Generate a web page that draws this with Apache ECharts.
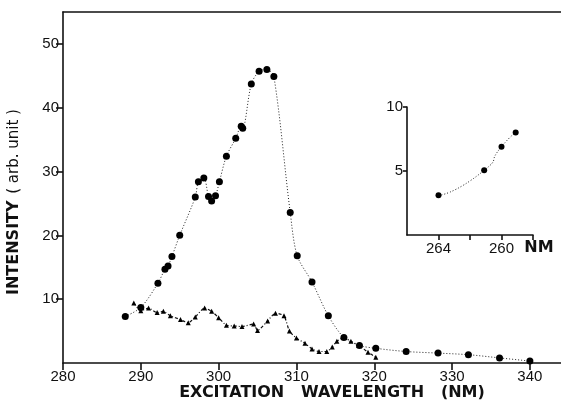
<!DOCTYPE html>
<html>
<head>
<meta charset="utf-8">
<script src="https://cdn.jsdelivr.net/npm/echarts@6/dist/echarts.min.js"></script>
<style>
  html, body { margin: 0; padding: 0; background: #fff; }
  #chart { width: 561px; height: 404px; }
</style>
</head>
<body>
<div id="chart"></div>
<script>
// Excitation spectrum, circle series (large dots, dotted curve)
const circleX = [288, 290, 292.2, 293.1, 293.5, 294.0, 295.0, 297.0, 297.4, 298.1, 298.7, 299.1, 299.6, 300.1, 301.0, 302.2, 302.9, 303.1, 304.2, 305.2, 306.2, 307.1, 309.2, 310.1, 312.0, 314.1, 316.1, 318.1, 320.2, 324.1, 328.2, 332.1, 336.1, 340.0];
const circleY = [7.3, 8.7, 12.5, 14.7, 15.2, 16.7, 20.0, 26.0, 28.4, 29.0, 26.1, 25.4, 26.2, 28.4, 32.4, 35.2, 37.1, 36.8, 43.7, 45.7, 46.0, 44.9, 23.6, 16.8, 12.7, 7.4, 4.0, 2.75, 2.3, 1.8, 1.55, 1.3, 0.8, 0.3];

// Excitation spectrum, triangle series (small marks, dash-dot curve)
const triX = [289.1, 290.0, 291.0, 292.1, 292.9, 293.8, 295.1, 296.1, 297.0, 298.2, 299.1, 300.0, 301.0, 302.0, 303.0, 304.5, 305.0, 306.3, 307.3, 308.4, 309.1, 310.0, 311.1, 312.0, 312.9, 313.9, 314.6, 315.2, 316.1, 317.0, 318.0, 319.2, 320.2];
const triY = [9.4, 8.2, 8.6, 7.9, 8.1, 7.4, 6.8, 6.3, 7.2, 8.6, 8.1, 7.1, 5.9, 5.8, 5.7, 6.1, 5.1, 6.6, 7.8, 7.4, 5.0, 3.9, 3.1, 2.2, 1.8, 1.8, 2.5, 3.4, 4.0, 3.4, 2.75, 1.7, 0.9];

// Inset: short-wavelength points
const insetX = [264, 261.1, 260.0, 259.1];
const insetY = [3.1, 5.05, 6.9, 8.0];

// Tick positions and labels
const mainXTicks = [280, 290, 300, 310, 320, 330, 340];
const mainYTicks = [10, 20, 30, 40, 50];
const insetXTickMarks = [264, 262, 260, 258];
const insetXTicks = [264, 260];
const insetYTicks = [5, 10];

const zip = (xs, ys) => xs.map((x, i) => [x, ys[i]]);

const tickFont = { fontFamily: 'Liberation Sans', fontSize: 15, color: '#111' };
const axisLineStyle = { color: '#111', width: 1.6 };

const chart = echarts.init(document.getElementById('chart'));
chart.setOption({
  backgroundColor: '#fff',
  animation: false,
  grid: [
    { left: 63, top: 12, width: 500, height: 351 },
    { left: 407, top: 107, width: 126, height: 128 }
  ],
  xAxis: [
    {
      gridIndex: 0, type: 'value', min: 280, max: 344, interval: 10,
      axisLine: { lineStyle: axisLineStyle },
      axisTick: { length: 7, lineStyle: axisLineStyle, customValues: mainXTicks },
      axisLabel: Object.assign({ margin: 6, customValues: mainXTicks }, tickFont),
      splitLine: { show: false }
    },
    {
      gridIndex: 1, type: 'value', min: 258, max: 266, interval: 2, inverse: true,
      axisLine: { lineStyle: axisLineStyle },
      axisTick: { length: 5, lineStyle: axisLineStyle, customValues: insetXTickMarks },
      axisLabel: Object.assign({ margin: 6, customValues: insetXTicks }, tickFont),
      splitLine: { show: false }
    },
    {
      // top frame line
      gridIndex: 0, type: 'value', position: 'top', min: 280, max: 344,
      axisLine: { lineStyle: axisLineStyle },
      axisTick: { show: false }, axisLabel: { show: false }, splitLine: { show: false }
    }
  ],
  yAxis: [
    {
      gridIndex: 0, type: 'value', min: 0, max: 55, interval: 10,
      axisLine: { show: true, lineStyle: axisLineStyle },
      axisTick: { show: true, length: 7, lineStyle: axisLineStyle, customValues: mainYTicks },
      axisLabel: Object.assign({ margin: 4, customValues: mainYTicks }, tickFont),
      splitLine: { show: false }
    },
    {
      gridIndex: 1, type: 'value', min: 0, max: 10, interval: 5,
      axisLine: { show: true, lineStyle: axisLineStyle },
      axisTick: { show: true, length: 4, lineStyle: axisLineStyle, customValues: insetYTicks },
      axisLabel: Object.assign({ margin: 4, customValues: insetYTicks }, tickFont),
      splitLine: { show: false }
    }
  ],
  series: [
    {
      type: 'line', xAxisIndex: 0, yAxisIndex: 0,
      data: zip(circleX, circleY),
      smooth: 0.3,
      symbol: 'circle', symbolSize: 7,
      itemStyle: { color: '#000' },
      lineStyle: { color: '#222', width: 1, type: [1, 2] }
    },
    {
      type: 'line', xAxisIndex: 0, yAxisIndex: 0,
      data: zip(triX, triY),
      smooth: 0.2,
      symbol: 'triangle', symbolSize: 5,
      itemStyle: { color: '#000' },
      lineStyle: { color: '#111', width: 1.2, type: [3, 2, 1, 2] }
    },
    {
      type: 'line', xAxisIndex: 1, yAxisIndex: 1,
      data: zip(insetX, insetY),
      smooth: 0.8,
      symbol: 'circle', symbolSize: 6,
      itemStyle: { color: '#000' },
      lineStyle: { color: '#222', width: 1, type: [1, 2] }
    }
  ],
  graphic: [
    {
      type: 'text', x: 14, y: 202, rotation: Math.PI / 2,
      style: {
        text: '{b|INTENSITY}  {n|( arb. unit )}',
        align: 'center', verticalAlign: 'middle',
        rich: {
          b: { fontFamily: 'DejaVu Sans', fontWeight: 'bold', fontSize: 16, fill: '#111' },
          n: { fontFamily: 'DejaVu Sans', fontSize: 15, fill: '#111' }
        }
      }
    },
    {
      type: 'text', x: 332, y: 393,
      style: {
        text: 'EXCITATION   WAVELENGTH   (NM)',
        align: 'center', verticalAlign: 'middle',
        fontFamily: 'DejaVu Sans', fontWeight: 'bold', fontSize: 16, fill: '#111'
      }
    },
    {
      type: 'text', x: 539, y: 248,
      style: {
        text: 'NM', align: 'center', verticalAlign: 'middle',
        fontFamily: 'DejaVu Sans', fontWeight: 'bold', fontSize: 16, fill: '#111'
      }
    }
  ]
});
</script>
</body>
</html>
